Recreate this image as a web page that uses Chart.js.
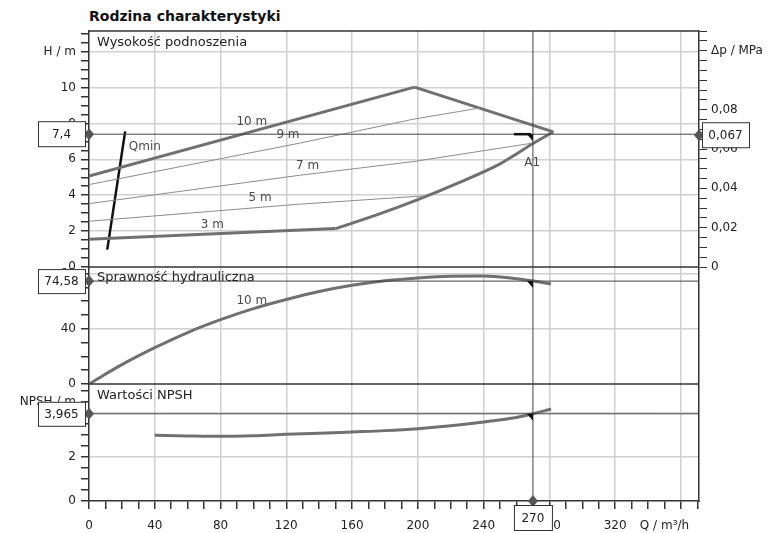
<!DOCTYPE html>
<html>
<head>
<meta charset="utf-8">
<script src="https://cdn.jsdelivr.net/npm/chart.js@4.4.1/dist/chart.umd.min.js"></script>
<style>
  body{margin:0;background:#fff;}
  #wrap{position:relative;width:774px;height:533px;}
  #title{position:absolute;left:89px;top:8px;font:bold 14px "DejaVu Sans",Verdana,sans-serif;color:#111;}
  canvas{position:absolute;left:0;top:0;}
</style>
</head>
<body>
<div id="wrap">
  <div id="title">Rodzina charakterystyki</div>
  <canvas id="pumpChart" width="774" height="533"></canvas>
</div>
<script>
  // DATA (Q in m3/h)

// head field, H / m
var head10Q = [0, 198];
var head10H = [5.07, 10.02];
var headRightQ = [198, 282.4];
var headRightH = [10.02, 7.53];
var headLowQ = [150, 175, 200, 225, 250, 260, 270, 282.4];
var headLowH = [2.14, 2.9, 3.75, 4.7, 5.75, 6.3, 6.88, 7.53];
var head3Q = [0, 150];
var head3H = [1.54, 2.14];
var head9Q = [0, 128, 197, 237.7];
var head9H = [4.59, 6.9, 8.23, 8.86];
var head7Q = [0, 128, 197, 268.2];
var head7H = [3.53, 5.11, 5.87, 6.88];
var head5Q = [0, 128, 205];
var head5H = [2.55, 3.5, 3.97];
var qminQ = [11.1, 22];
var qminH = [0.97, 7.56];

// hydraulic efficiency, %
var etaQ = [0, 20, 40, 60, 80, 100, 120, 140, 160, 180, 200, 220, 240, 255, 270, 281];
var etaV = [0, 14, 26.3, 37.3, 46.6, 54.6, 61.2, 67, 71.5, 74.8, 76.9, 78.1, 78.2, 77, 74.58, 72.5];

// NPSH, m
var npshQ = [40, 60, 80, 100, 120, 140, 160, 180, 200, 220, 240, 260, 270, 281];
var npshV = [2.99, 2.96, 2.94, 2.97, 3.03, 3.08, 3.14, 3.2, 3.29, 3.42, 3.59, 3.8, 3.965, 4.18];

// duty point A1
var dutyQ = 270;
var dutyH = 7.4;
var dutyP = 0.067;
var dutyEta = 74.58;
var dutyNpsh = 3.965;

// axes
var qMax = 371;
var hMax = 13.15;
var etaMax = 84.8;
var npshMax = 5.32;
var dpMax = 0.12;

var qLabels = [0, 40, 80, 120, 160, 200, 240, 280, 320];
var qGrid = [40, 80, 120, 160, 200, 240, 280, 320, 360];
var hLabels = [0, 2, 4, 6, 8, 10];
var hGrid = [2, 4, 6, 8, 10, 12];
var etaLabels = [0, 40, 80];
var etaGrid = [40, 80];
var npshLabels = [0, 2, 4];
var npshGrid = [2, 4];
var dpLabels = [0, 0.02, 0.04, 0.06, 0.08];

// panel heights (px) used as stack weights
var hPanel = 236, etaPanel = 117, npshPanel = 117;
var dpMin = -dpMax * (etaPanel + npshPanel) / hPanel;

var GRID = '#d0d0d0';
var DARK = '#333';
var THICK = '#707070';
var THIN = '#8c8c8c';
var FONT = '"DejaVu Sans", Verdana, sans-serif';

Chart.defaults.font.family = FONT;
Chart.defaults.font.size = 12;
Chart.defaults.color = '#222';

function r2(v){ return Math.round(v * 1000) / 1000; }

function toXY(qs, vs){
  return qs.map(function(q, i){ return {x: q, y: vs[i]}; });
}

function line(qs, vs, axis, color, width, smooth){
  return {
    data: toXY(qs, vs),
    yAxisID: axis,
    borderColor: color,
    borderWidth: width,
    showLine: true,
    pointRadius: 0,
    fill: false,
    cubicInterpolationMode: smooth ? 'monotone' : 'default',
    tension: smooth ? 0.4 : 0
  };
}

function gridColor(list){
  return function(c){ return list.indexOf(r2(c.tick.value)) >= 0 ? GRID : 'rgba(0,0,0,0)'; };
}

function leftAxis(max, step, weight, labels, grid, title, titleAt){
  return {
    type: 'linear', position: 'left', stack: 'left', stackWeight: weight,
    min: 0, max: max,
    afterFit: function(s){ s.width = 89; },
    border: {color: DARK, width: 1.5},
    grid: {color: gridColor(grid), lineWidth: 1.5, tickColor: DARK, tickLength: 8},
    ticks: {
      stepSize: step, autoSkip: false, includeBounds: false, padding: 5,
      callback: function(v){
        v = r2(v);
        if (v === titleAt) return title;
        return labels.indexOf(v) >= 0 ? String(v) : '';
      }
    }
  };
}

// text labels placed in data units
var curveNotes = [
  {text: '10 m', q: 99, v: 8.06, axis: 'yH'},
  {text: '9 m', q: 121, v: 7.35, axis: 'yH'},
  {text: '7 m', q: 133, v: 5.61, axis: 'yH'},
  {text: '5 m', q: 104, v: 3.83, axis: 'yH'},
  {text: '3 m', q: 75, v: 2.37, axis: 'yH'},
  {text: 'Qmin', q: 34, v: 6.67, axis: 'yH'},
  {text: 'A1', q: 269.5, v: 5.78, axis: 'yH'},
  {text: '10 m', q: 99, v: 60.6, axis: 'yEta'}
];

function diamond(ctx, x, y){
  ctx.fillStyle = '#555';
  ctx.beginPath();
  ctx.moveTo(x, y - 6); ctx.lineTo(x + 5, y); ctx.lineTo(x, y + 6); ctx.lineTo(x - 5, y);
  ctx.closePath(); ctx.fill();
}

function box(ctx, text, x, y, w, h){
  ctx.fillStyle = '#fff';
  ctx.fillRect(x, y, w, h);
  ctx.strokeStyle = DARK; ctx.lineWidth = 1;
  ctx.strokeRect(x + 0.5, y + 0.5, w, h);
  ctx.fillStyle = '#222';
  ctx.textAlign = 'center'; ctx.textBaseline = 'middle';
  ctx.fillText(text, x + w / 2, y + h / 2 + 1);
}

function pointer(ctx, x, y, big){
  ctx.fillStyle = '#111'; ctx.strokeStyle = '#111';
  if (big) {
    ctx.lineWidth = 2.5;
    ctx.beginPath(); ctx.moveTo(x - 19, y); ctx.lineTo(x - 2, y); ctx.stroke();
  }
  ctx.beginPath();
  ctx.moveTo(x - 6, y); ctx.lineTo(x, y); ctx.lineTo(x, y + 7);
  ctx.closePath(); ctx.fill();
}

var overlay = {
  id: 'overlay',
  afterDraw: function(chart){
    var ctx = chart.ctx, a = chart.chartArea, s = chart.scales;
    ctx.save();
    // panel frames
    ctx.strokeStyle = DARK; ctx.lineWidth = 1.5;
    [s.yH.top, s.yEta.top, s.yN.top].forEach(function(y){
      ctx.beginPath(); ctx.moveTo(a.left, y); ctx.lineTo(a.right, y); ctx.stroke();
    });
    // duty point lines
    var xd = s.x.getPixelForValue(dutyQ);
    var yh = s.yH.getPixelForValue(dutyH);
    var ye = s.yEta.getPixelForValue(dutyEta);
    var yn = s.yN.getPixelForValue(dutyNpsh);
    ctx.strokeStyle = '#444'; ctx.lineWidth = 1;
    [yh, ye, yn].forEach(function(y){
      ctx.beginPath(); ctx.moveTo(a.left, y); ctx.lineTo(a.right, y); ctx.stroke();
    });
    ctx.beginPath(); ctx.moveTo(xd, a.top); ctx.lineTo(xd, a.bottom); ctx.stroke();
    pointer(ctx, xd, yh, true);
    pointer(ctx, xd, ye, false);
    pointer(ctx, xd, yn, false);

    // in-plot texts
    ctx.font = '13px ' + FONT;
    ctx.textBaseline = 'middle'; ctx.textAlign = 'left'; ctx.fillStyle = '#222';
    ctx.fillText('Wysokość podnoszenia', a.left + 8, s.yH.top + 12);
    ctx.fillText('Sprawność hydrauliczna', a.left + 8, s.yEta.top + 11);
    ctx.fillText('Wartości NPSH', a.left + 8, s.yN.top + 12);
    ctx.font = '12px ' + FONT;
    ctx.textAlign = 'center'; ctx.fillStyle = '#4a4a4a';
    curveNotes.forEach(function(n){
      ctx.fillText(n.text, s.x.getPixelForValue(n.q), s[n.axis].getPixelForValue(n.v));
    });

    // value boxes
    diamond(ctx, a.left, yh);
    diamond(ctx, a.right, s.yP.getPixelForValue(dutyP));
    diamond(ctx, a.left, ye);
    diamond(ctx, a.left, yn);
    diamond(ctx, xd, a.bottom);
    box(ctx, String(dutyH).replace('.', ','), a.left - 51, yh - 13, 47, 25);
    box(ctx, String(dutyP).replace('.', ','), a.right + 3, s.yP.getPixelForValue(dutyP) - 13, 47, 25);
    box(ctx, String(dutyEta).replace('.', ','), a.left - 51, ye - 12, 47, 24);
    box(ctx, String(dutyNpsh).replace('.', ','), a.left - 51, yn - 12, 47, 24);
    box(ctx, String(dutyQ), xd - 19, a.bottom + 4, 38, 25);
    ctx.restore();
  }
};

const pumpChart = new Chart('pumpChart', {
  type: 'scatter',
  data: {
    datasets: [
      line(head9Q, head9H, 'yH', THIN, 1),
      line(head7Q, head7H, 'yH', THIN, 1),
      line(head5Q, head5H, 'yH', THIN, 1),
      line(head10Q, head10H, 'yH', THICK, 3),
      line(headRightQ, headRightH, 'yH', THICK, 3),
      line(headLowQ, headLowH, 'yH', THICK, 3, true),
      line(head3Q, head3H, 'yH', THICK, 3),
      line(qminQ, qminH, 'yH', '#111', 2.5),
      line(etaQ, etaV, 'yEta', THICK, 3, true),
      line(npshQ, npshV, 'yN', THICK, 3, true)
    ]
  },
  options: {
    responsive: false,
    animation: false,
    layout: {padding: {top: 31, left: 0, right: 0, bottom: 0}},
    plugins: {legend: {display: false}, tooltip: {enabled: false}},
    scales: {
      x: {
        type: 'linear', min: 0, max: qMax,
        afterFit: function(s){ s.height = 32; },
        border: {color: DARK, width: 1.5},
        grid: {color: gridColor(qGrid), lineWidth: 1.5, tickColor: DARK, tickLength: 8},
        ticks: {
          stepSize: 10, autoSkip: false, includeBounds: false, maxRotation: 0, padding: 10,
          callback: function(v){
            if (v === 350) return 'Q / m³/h';
            return qLabels.indexOf(v) >= 0 ? String(v) : '';
          }
        }
      },
      // left stack is laid out in reverse order, so the bottom panel comes first
      yN: leftAxis(npshMax, 0.5, npshPanel, npshLabels, npshGrid, 'NPSH / m', 4.5),
      yEta: leftAxis(etaMax, 10, etaPanel, etaLabels, etaGrid, '', -1),
      yH: leftAxis(hMax, 0.5, hPanel, hLabels, hGrid, 'H / m', 12),
      yP: {
        type: 'linear', position: 'right', min: dpMin, max: dpMax,
        afterFit: function(s){ s.width = 75; },
        afterBuildTicks: function(s){ s.ticks = s.ticks.filter(function(t){ return t.value > -1e-6; }); },
        border: {color: DARK, width: 1.5},
        grid: {drawOnChartArea: false, tickColor: DARK, tickLength: 8},
        ticks: {
          stepSize: 0.005, autoSkip: false, includeBounds: false, padding: 4,
          callback: function(v){
            v = r2(v);
            if (v === 0.11) return 'Δp / MPa';
            if (v === 0) return '0';
            return dpLabels.indexOf(v) >= 0 ? v.toFixed(2).replace('.', ',') : '';
          }
        }
      }
    }
  },
  plugins: [overlay]
});
</script>
</body>
</html>
